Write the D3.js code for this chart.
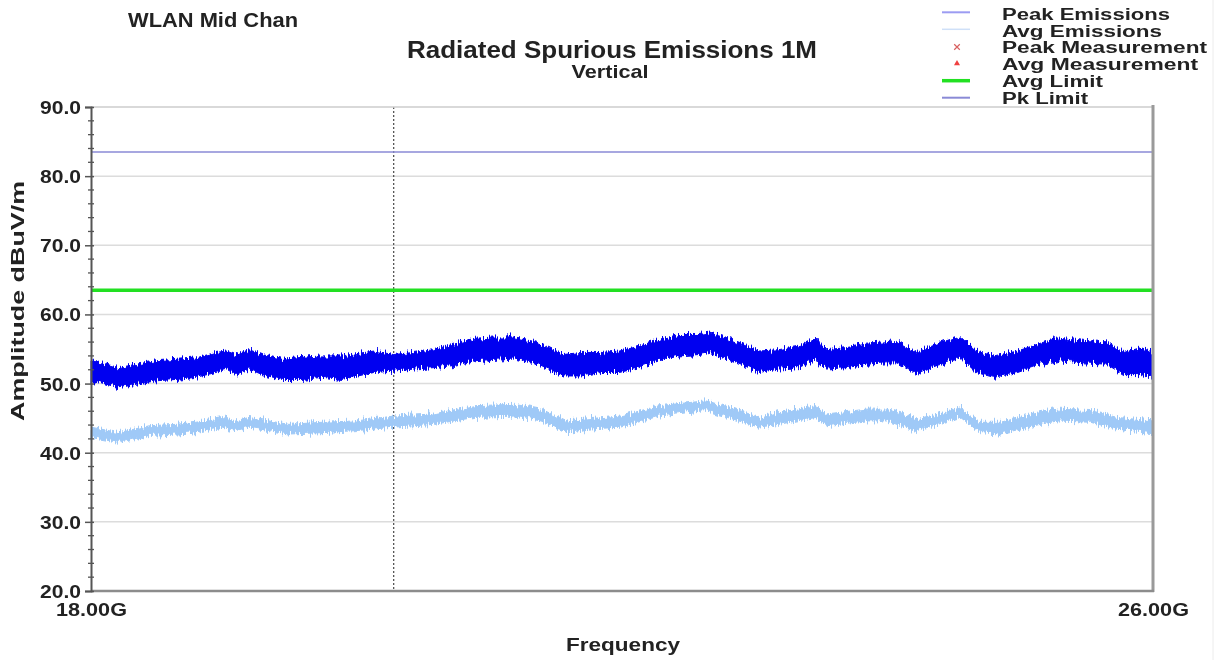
<!DOCTYPE html>
<html>
<head>
<meta charset="utf-8">
<script src="https://cdn.jsdelivr.net/npm/d3@7"></script>
<style>
  html, body { margin: 0; padding: 0; background: #fff; }
  svg { display: block; font-family: "Liberation Sans", Arial, sans-serif; font-weight: bold; }
</style>
</head>
<body>
<svg id="chart" width="1219" height="660"></svg>
<script>
// Frequency grid (GHz) and envelope of the peak detector trace (dBuV/m)
const peakFreq = [18.00,18.08,18.21,18.34,18.49,18.64,18.79,18.94,19.02,19.09,19.19,19.29,19.44,19.59,19.74,19.89,20.13,20.28,20.43,20.58,20.73,20.89,21.04,21.19,21.34,21.43,21.56,21.69,21.84,21.98,22.13,22.28,22.43,22.58,22.66,22.78,22.90,23.03,23.18,23.33,23.46,23.54,23.69,23.84,23.99,24.07,24.22,24.37,24.55,24.67,24.80,24.98,25.13,25.28,25.48,25.65,25.78,25.91,26.00];
const peakHigh = [53.3,53.0,52.3,52.8,53.3,53.5,53.7,54.5,54.7,54.2,54.9,54.2,53.5,53.8,54.0,54.0,54.7,54.2,54.5,54.9,55.7,56.4,56.6,56.6,56.1,55.4,54.2,54.5,54.5,54.7,55.4,56.4,57.1,57.1,57.3,56.6,55.7,54.7,54.9,55.4,56.6,54.9,55.2,55.7,55.9,56.1,54.5,55.7,56.9,54.7,54.0,54.7,55.7,56.6,56.1,55.9,54.5,55.2,54.5];
const peakLow  = [50.1,50.1,49.4,49.9,50.4,50.6,50.9,51.6,52.1,51.3,52.1,51.3,50.6,50.6,50.9,50.6,51.6,51.8,52.1,52.3,52.6,53.3,53.5,53.7,53.0,52.1,51.1,51.1,51.6,51.6,52.3,53.3,54.0,54.2,54.5,53.7,52.8,51.6,52.1,52.3,53.5,52.1,52.3,52.8,53.0,53.0,51.3,52.6,53.7,51.6,50.9,51.6,52.6,53.3,53.0,52.8,51.3,51.3,50.9];

// Envelope of the average detector trace (dBuV/m)
const avgFreq = [18.00,18.21,18.44,18.64,18.79,18.99,19.09,19.19,19.34,19.49,19.74,20.00,20.28,20.58,20.89,21.19,21.39,21.59,21.74,21.99,22.28,22.63,22.83,23.03,23.18,23.46,23.54,23.84,23.99,24.22,24.43,24.55,24.70,24.85,25.10,25.28,25.53,25.73,26.00];
const avgHigh = [43.7,42.9,43.9,44.1,44.4,45.1,44.6,45.1,44.6,44.1,44.4,44.6,45.3,45.6,46.8,47.0,46.3,44.6,44.9,45.3,46.8,47.5,46.5,45.1,45.8,46.8,45.6,46.3,46.3,44.9,45.8,46.5,44.4,44.4,45.6,46.3,46.1,45.1,44.6];
const avgLow  = [42.2,41.5,42.5,42.7,42.9,43.7,43.2,43.7,43.2,42.7,42.9,43.2,43.7,44.1,45.1,45.3,44.6,42.9,43.4,43.7,45.3,46.1,44.9,43.7,44.1,45.1,43.9,44.6,44.6,43.2,44.4,45.1,42.9,42.7,43.9,44.6,44.4,43.4,42.9];

// Limits and axis settings
const pkLimit = 83.5;
const avgLimit = 63.5;
const markerFreq = 20.28;
const freqRange = [18, 26];
const ampRange = [20, 90];
const yTickValues = [20, 30, 40, 50, 60, 70, 80, 90];
const xTickValues = [18, 26];
const legendLabels = ["Peak Emissions", "Avg Emissions", "Peak Measurement", "Avg Measurement", "Avg Limit", "Pk Limit"];

const svg = d3.select("#chart");
const plot = { left: 91, right: 1153, top: 107, bottom: 591 };

const x = d3.scaleLinear().domain(freqRange).range([plot.left, plot.right]);
const y = d3.scaleLinear().domain(ampRange).range([plot.bottom, plot.top]);

const defs = svg.append("defs");
defs.append("filter").attr("id", "softText")
  .append("feGaussianBlur").attr("stdDeviation", 0.35);

// ragged receiver-noise edge for the trace bands
const hair = defs.append("filter").attr("id", "hair")
  .attr("x", "-0.02").attr("y", "-0.6").attr("width", "1.04").attr("height", "2.2")
  .attr("color-interpolation-filters", "sRGB");
hair.append("feTurbulence").attr("type", "fractalNoise")
  .attr("baseFrequency", "0.7 0.04").attr("numOctaves", 2).attr("seed", 7).attr("result", "noise");
hair.append("feColorMatrix").attr("in", "noise").attr("type", "matrix")
  .attr("values", "0 0 0 0 0.5  0 1 0 0 0  0 0 0 0 0  0 0 0 0 1").attr("result", "disp");
hair.append("feDisplacementMap").attr("in", "SourceGraphic").attr("in2", "disp")
  .attr("scale", 12).attr("xChannelSelector", "R").attr("yChannelSelector", "G").attr("result", "moved");
hair.append("feGaussianBlur").attr("in", "moved").attr("stdDeviation", 0.6);

// horizontal grid
svg.append("g")
  .selectAll("line")
  .data(yTickValues.slice(1))
  .join("line")
  .attr("x1", plot.left).attr("x2", plot.right)
  .attr("y1", d => y(d)).attr("y2", d => y(d))
  .attr("stroke", "#dcdcdc").attr("stroke-width", 1.5);

// dotted marker
svg.append("line")
  .attr("x1", x(markerFreq)).attr("x2", x(markerFreq))
  .attr("y1", plot.top).attr("y2", plot.bottom)
  .attr("stroke", "#555").attr("stroke-width", 1.3)
  .attr("stroke-dasharray", "2,2");

// average band
const avgArea = d3.area()
  .x((d, i) => x(avgFreq[i]))
  .y0((d, i) => y(avgLow[i]))
  .y1((d, i) => y(avgHigh[i]));
svg.append("path")
  .datum(avgFreq)
  .attr("d", avgArea)
  .attr("fill", "#9fc9f7")
  .attr("stroke", "#9fc9f7").attr("stroke-width", 1)
  .attr("filter", "url(#hair)");

// peak band
const peakArea = d3.area()
  .x((d, i) => x(peakFreq[i]))
  .y0((d, i) => y(peakLow[i]))
  .y1((d, i) => y(peakHigh[i]));
svg.append("path")
  .datum(peakFreq)
  .attr("d", peakArea)
  .attr("fill", "#0000f0")
  .attr("stroke", "#0000f0").attr("stroke-width", 1)
  .attr("filter", "url(#hair)");

// limit lines
svg.append("line")
  .attr("x1", plot.left).attr("x2", plot.right)
  .attr("y1", y(avgLimit)).attr("y2", y(avgLimit))
  .attr("stroke", "#22e022").attr("stroke-width", 3.5);
svg.append("line")
  .attr("x1", plot.left).attr("x2", plot.right)
  .attr("y1", y(pkLimit)).attr("y2", y(pkLimit))
  .attr("stroke", "#8a8ad6").attr("stroke-width", 1.6);

// frame
svg.append("line").attr("x1", plot.left).attr("x2", plot.right)
  .attr("y1", plot.top).attr("y2", plot.top)
  .attr("stroke", "#d4d4d4").attr("stroke-width", 1.5);
svg.append("line").attr("x1", plot.right).attr("x2", plot.right)
  .attr("y1", plot.top - 2).attr("y2", plot.bottom + 1)
  .attr("stroke", "#9a9a9a").attr("stroke-width", 3);
svg.append("line").attr("x1", plot.left).attr("x2", plot.right + 1)
  .attr("y1", plot.bottom).attr("y2", plot.bottom)
  .attr("stroke", "#8c8c8c").attr("stroke-width", 2.5);

// y axis with minor ticks
const yAxis = d3.axisLeft(y)
  .tickValues(yTickValues)
  .tickFormat(d3.format(".1f"))
  .tickSize(6)
  .tickPadding(4);
const gy = svg.append("g")
  .attr("transform", `translate(${plot.left},0)`)
  .call(yAxis);
gy.select(".domain").attr("stroke", "#555").attr("stroke-width", 2);
gy.selectAll(".tick line").attr("stroke", "#555").attr("stroke-width", 1.5).attr("x2", -6).attr("x1", 3);
gy.selectAll(".tick text")
  .attr("fill", "#222")
  .attr("font-size", 18)
  .attr("textLength", 41)
  .attr("lengthAdjust", "spacingAndGlyphs")
  .attr("dy", "0.36em")
  .attr("filter", "url(#softText)");

const minor = d3.range(ampRange[0], ampRange[1] + 0.001, 2).filter(v => v % 10 !== 0);
svg.append("g").selectAll("line").data(minor).join("line")
  .attr("x1", plot.left - 3).attr("x2", plot.left + 3)
  .attr("y1", d => y(d)).attr("y2", d => y(d))
  .attr("stroke", "#555").attr("stroke-width", 1.3);

// x axis labels
const xAxis = d3.axisBottom(x)
  .tickValues(xTickValues)
  .tickFormat(d => d3.format(".2f")(d) + "G")
  .tickSize(0)
  .tickPadding(12);
const gx = svg.append("g")
  .attr("transform", `translate(0,${plot.bottom})`)
  .call(xAxis);
gx.select(".domain").remove();
gx.selectAll(".tick text")
  .attr("fill", "#222")
  .attr("font-size", 19)
  .attr("textLength", 71)
  .attr("lengthAdjust", "spacingAndGlyphs")
  .attr("filter", "url(#softText)");

// titles
function label(txt, px, py, size, len, anchor, rot) {
  const t = svg.append("text")
    .attr("x", px).attr("y", py)
    .attr("font-size", size)
    .attr("fill", "#222")
    .attr("text-anchor", anchor || "start")
    .attr("textLength", len)
    .attr("lengthAdjust", "spacingAndGlyphs")
    .attr("filter", "url(#softText)")
    .text(txt);
  if (rot) t.attr("transform", `rotate(${rot},${px},${py})`);
  return t;
}
label("WLAN Mid Chan", 128, 26.5, 20, 170);
label("Radiated Spurious Emissions 1M", 612, 58, 23, 410, "middle");
label("Vertical", 610, 78, 19, 77, "middle");
label("Frequency", 623, 651, 19, 114, "middle");
label("Amplitude dBuV/m", 24, 301, 19, 240, "middle", -90);

// legend (tightly stacked rows)
const legendX = 1002;
const legendBase = [19.5, 36.5, 53.3, 70.3, 87.3, 104];
const legendWidth = [168, 160, 205, 196, 101, 86];
legendLabels.forEach((txt, i) => {
  label(txt, legendX, legendBase[i], 16, legendWidth[i]);
});
const sx1 = 942, sx2 = 970, sxm = 957;
svg.append("line").attr("x1", sx1).attr("x2", sx2).attr("y1", 12.3).attr("y2", 12.3)
  .attr("stroke", "#9c9cf2").attr("stroke-width", 2);
svg.append("line").attr("x1", sx1).attr("x2", sx2).attr("y1", 29.3).attr("y2", 29.3)
  .attr("stroke", "#cfe0f8").attr("stroke-width", 1.5);
svg.append("path")
  .attr("d", d3.symbol(d3.symbolX, 22)())
  .attr("transform", `translate(${sxm},47)`)
  .attr("fill", "none").attr("stroke", "#d86060").attr("stroke-width", 1.2);
svg.append("path")
  .attr("d", d3.symbol(d3.symbolTriangle, 16)())
  .attr("transform", `translate(${sxm},63.5)`)
  .attr("fill", "#f04040");
svg.append("line").attr("x1", sx1).attr("x2", sx2).attr("y1", 80.7).attr("y2", 80.7)
  .attr("stroke", "#22e022").attr("stroke-width", 3.5);
svg.append("line").attr("x1", sx1).attr("x2", sx2).attr("y1", 97.7).attr("y2", 97.7)
  .attr("stroke", "#8a8ad6").attr("stroke-width", 2);

// page edge
svg.append("line").attr("x1", 1213).attr("x2", 1213).attr("y1", 0).attr("y2", 660)
  .attr("stroke", "#ececec").attr("stroke-width", 1);
</script>
</body>
</html>
